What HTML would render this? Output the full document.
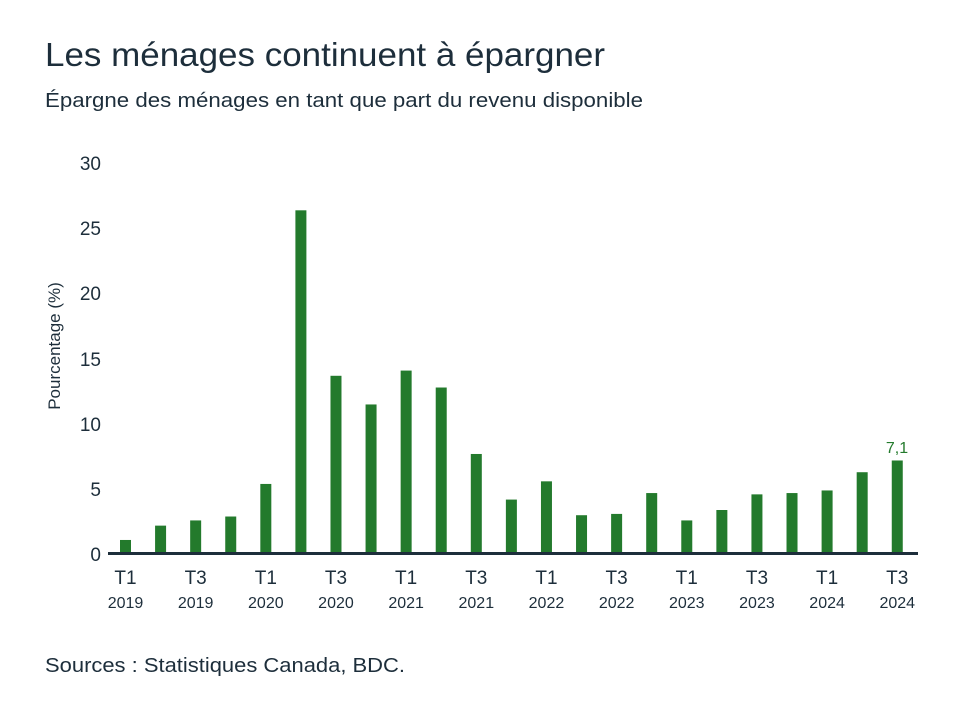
<!DOCTYPE html>
<html><head><meta charset="utf-8"><style>
html,body{margin:0;padding:0;background:#fff;}
svg{display:block;}
text{font-family:"Liberation Sans",sans-serif;fill:#1d2e3b;}
</style></head><body>
<svg width="960" height="720" viewBox="0 0 960 720" xmlns="http://www.w3.org/2000/svg">
<text x="45" y="66" font-size="33" textLength="560" lengthAdjust="spacingAndGlyphs">Les ménages continuent à épargner</text>
<text x="45" y="107" font-size="20" textLength="598" lengthAdjust="spacingAndGlyphs">Épargne des ménages en tant que part du revenu disponible</text>
<g font-size="19" text-anchor="end">
<text x="101" y="170">30</text>
<text x="101" y="235">25</text>
<text x="101" y="300">20</text>
<text x="101" y="366">15</text>
<text x="101" y="431">10</text>
<text x="101" y="496">5</text>
<text x="101" y="561">0</text>
</g>
<text transform="translate(60,346) rotate(-90)" font-size="17" text-anchor="middle">Pourcentage (%)</text>
<g fill="#237a2c" id="bars"></g>
<rect x="108" y="552" width="810" height="3" fill="#1d2e3b"/>
<text x="897" y="453" font-size="16" text-anchor="middle" style="fill:#237a2c">7,1</text>
<g font-size="19" text-anchor="middle" id="xl"></g>
<text x="45" y="672" font-size="20" textLength="360" lengthAdjust="spacingAndGlyphs">Sources : Statistiques Canada, BDC.</text>
</svg>
<script>
var v=[1.0,2.1,2.5,2.8,5.3,26.3,13.6,11.4,14.0,12.7,7.6,4.1,5.5,2.9,3.0,4.6,2.5,3.3,4.5,4.6,4.8,6.2,7.1];
var g=document.getElementById('bars'),ns='http://www.w3.org/2000/svg';
v.forEach(function(d,i){var c=125.5+i*35.08,h=d*13.03;var r=document.createElementNS(ns,'rect');
r.setAttribute('x',c-5.5);r.setAttribute('y',553-h);r.setAttribute('width',11);r.setAttribute('height',h);g.appendChild(r);});
var xl=document.getElementById('xl');
for(var k=0;k<12;k++){var c=125.5+k*2*35.08;var q=k%2?'T3':'T1';var y=2019+Math.floor(k/2);
var t=document.createElementNS(ns,'text');t.setAttribute('x',c);t.setAttribute('y',584);t.textContent=q;xl.appendChild(t);
var t2=document.createElementNS(ns,'text');t2.setAttribute('x',c);t2.setAttribute('y',608);t2.setAttribute('font-size','16');t2.textContent=y;xl.appendChild(t2);}
</script>
</body></html>
